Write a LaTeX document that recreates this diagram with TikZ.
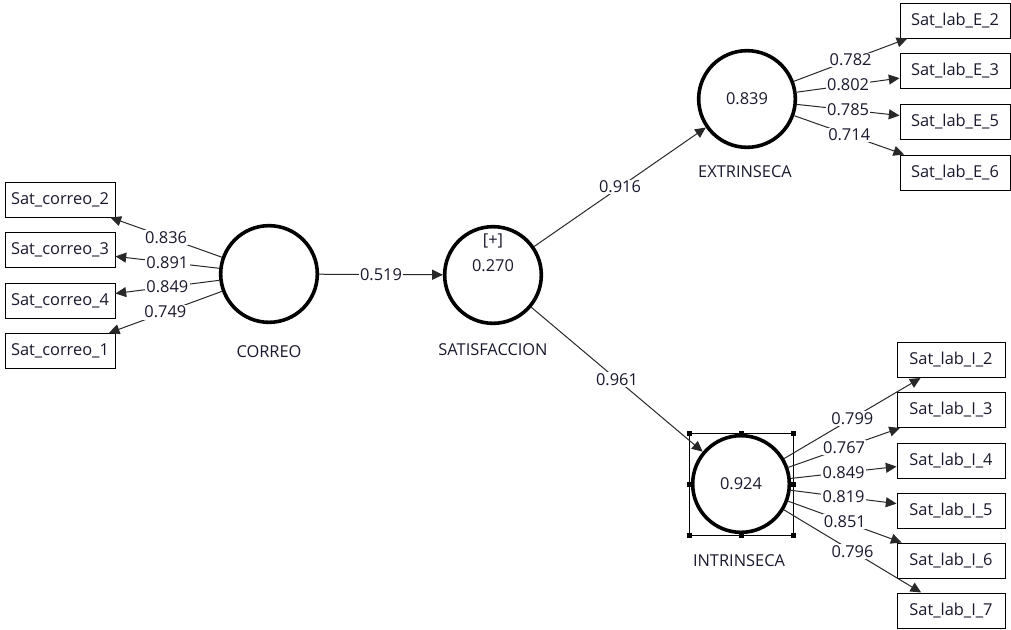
\documentclass[tikz,border=0pt]{standalone}
\usepackage{fontspec}
\setmainfont{Open Sans}
\usetikzlibrary{arrows.meta}
\definecolor{lc}{RGB}{40,40,40}
\definecolor{txt}{RGB}{25,25,45}
\begin{document}
\begin{tikzpicture}[x=0.75pt,y=-0.75pt,
 every node/.style={font=\fontsize{12.3}{14}\selectfont, text=txt},
 latent/.style={circle, draw=black, line width=2.7pt, minimum size=72.5pt, inner sep=0pt},
 mvar/.style={draw=black, line width=0.75pt, minimum width=82.5pt, minimum height=26.25pt, inner sep=0pt},
 mvari/.style={mvar, minimum width=81pt},
 arr/.style={draw=lc, line width=0.75pt, -{Triangle[length=8pt,width=7.5pt]}},
 coef/.style={midway, fill=white, inner sep=1pt},
 lbl/.style={inner sep=0pt}
]
\useasboundingbox (0,0) rectangle (1011,629);
% latent variables
\node[latent] (correo) at (269,274) {};
\node[latent] (sat) at (493,275) {};
\node[latent] (ext) at (747,99) {0.839};
\node[latent] (int) at (741,484) {0.924};
\node[lbl] (satplus) at (493,241) {[+]};
\node[lbl] (satr2) at (493,266) {0.270};
\node[lbl] (lcorreo) at (269,352) {CORREO};
\node[lbl] (lsat) at (493,350) {SATISFACCION};
\node[lbl] (lext) at (745,172) {EXTRINSECA};
\node[lbl] (lint) at (739,561) {INTRINSECA};
% indicators
\node[mvar] (c2) at (60,199.5) {Sat\_correo\_2};
\node[mvar] (c3) at (60,250) {Sat\_correo\_3};
\node[mvar] (c4) at (60,300.5) {Sat\_correo\_4};
\node[mvar] (c1) at (60,351) {Sat\_correo\_1};
\node[mvar] (e2) at (955,20.5) {Sat\_lab\_E\_2};
\node[mvar] (e3) at (955,70.5) {Sat\_lab\_E\_3};
\node[mvar] (e5) at (955,121.5) {Sat\_lab\_E\_5};
\node[mvar] (e6) at (955,172.5) {Sat\_lab\_E\_6};
\node[mvari] (i2) at (951,360) {Sat\_lab\_I\_2};
\node[mvari] (i3) at (951,410) {Sat\_lab\_I\_3};
\node[mvari] (i4) at (951,460.5) {Sat\_lab\_I\_4};
\node[mvari] (i5) at (951,510.5) {Sat\_lab\_I\_5};
\node[mvari] (i6) at (951,560.5) {Sat\_lab\_I\_6};
\node[mvari] (i7) at (951,610.5) {Sat\_lab\_I\_7};
% selection frame
\draw[black, line width=0.6pt] (689,433) rectangle (793,535);
\foreach \p in {(689,433),(741,433),(793,433),(689,484),(793,484),(689,535),(741,535),(793,535)}
  \fill[black] \p ++(-2.5,-2.5) rectangle ++(5,5);
% outer loadings
\draw[arr] (correo) -- (c2) node[coef] {0.836};
\draw[arr] (correo) -- (c3) node[coef] {0.891};
\draw[arr] (correo) -- (c4) node[coef] {0.849};
\draw[arr] (correo) -- (c1) node[coef] {0.749};
\draw[arr] (ext) -- (e2) node[coef] {0.782};
\draw[arr] (ext) -- (e3) node[coef] {0.802};
\draw[arr] (ext) -- (e5) node[coef] {0.785};
\draw[arr] (ext) -- (e6) node[coef] {0.714};
\draw[arr] (int) -- (i2) node[coef] {0.799};
\draw[arr] (int) -- (i3) node[coef] {0.767};
\draw[arr] (int) -- (i4) node[coef] {0.849};
\draw[arr] (int) -- (i5) node[coef] {0.819};
\draw[arr] (int) -- (i6) node[coef] {0.851};
\draw[arr] (int) -- (i7) node[coef] {0.796};
% structural paths
\draw[arr] (correo) -- (sat) node[coef] {0.519};
\draw[arr] (sat) -- (ext) node[coef] {0.916};
\draw[arr] (sat) -- (int) node[coef] {0.961};
\end{tikzpicture}
\end{document}
